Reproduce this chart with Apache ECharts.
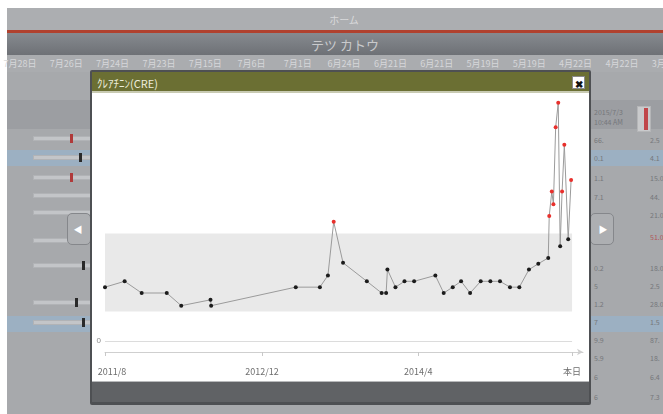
<!DOCTYPE html>
<html><head><meta charset="utf-8">
<script src="https://cdn.jsdelivr.net/npm/echarts@6/dist/echarts.min.js"></script>
<style>
html,body{margin:0;padding:0;width:663px;height:414px;overflow:hidden;background:#fff;font-family:"Noto Sans CJK JP","Noto Sans",sans-serif;}
.a{position:absolute;}
.t{position:absolute;transform:translate(-50%,-50%);white-space:nowrap;}
.tl{position:absolute;transform:translate(0,-50%);white-space:nowrap;}
.bar{position:absolute;height:5px;background:#c3c5c8;border:1px solid #b1b3b6;box-sizing:border-box;}
.mk{position:absolute;width:3px;height:9px;}
.nav{position:absolute;width:24px;height:32px;background:#adafb2;border:1px solid #85878b;border-radius:5px;box-sizing:border-box;}
.rv{position:absolute;transform:translate(0,-50%);font-size:7px;color:#75777b;white-space:nowrap;}
</style></head>
<body>
<!-- background app -->
<div class="a" style="left:7px;top:8px;width:656px;height:406px;background:#a7a9ac;"></div>
<div class="a" style="left:7px;top:8px;width:656px;height:22px;background:#acaeb1;"></div>
<div class="t" style="left:344px;top:19px;font-size:10px;color:#d9d9db;">ホーム</div>
<div class="a" style="left:7px;top:30px;width:656px;height:3px;background:#b0412e;"></div>
<div class="a" style="left:7px;top:33px;width:656px;height:22px;background:linear-gradient(#868a8f,#6e7176);"></div>
<div class="t" style="left:345px;top:44px;font-size:13px;color:#c9cacc;">テツ カトウ</div>
<div class="a" style="left:7px;top:55px;width:656px;height:17px;background:#aaacaf;" id="daterow"></div>
<div class="a" style="left:7px;top:100px;width:656px;height:29px;background:#9c9ea2;"></div>
<div class="a" style="left:7px;top:150px;width:656px;height:16px;background:#9cb0c2;"></div>
<div class="a" style="left:7px;top:316px;width:656px;height:16px;background:#9cb0c2;"></div>
<div id="bgitems"></div>
<div class="nav" style="left:67px;top:213px;"></div>
<div class="t" style="left:78px;top:229px;font-size:9px;color:#fff;">◀</div>
<div class="nav" style="left:590px;top:213px;"></div>
<div class="t" style="left:603px;top:229px;font-size:9px;color:#fff;">▶</div>
<div class="rv" style="left:594px;top:112px;">2015/7/3</div>
<div class="rv" style="left:594px;top:122px;">10:44 AM</div>
<div class="a" style="left:637px;top:106px;width:14px;height:26px;background:#c9cacc;border:1px solid #b5b6b8;box-sizing:border-box;"></div>
<div class="a" style="left:644px;top:108px;width:4px;height:22px;background:#c0464a;"></div>

<!-- modal -->
<div class="a" style="left:90px;top:70px;width:501px;height:335px;background:#4e5053;border-radius:2px;"></div>
<div class="a" style="left:92px;top:72px;width:497px;height:19px;background:#6b6f33;"></div>
<div class="a" style="left:92px;top:91px;width:497px;height:2px;background:#c8cab2;"></div>
<div class="tl" style="left:97px;top:83px;font-size:11px;color:#eeeedd;">ｸﾚｱﾁﾆﾝ(CRE)</div>
<div class="a" style="left:572px;top:76px;width:13px;height:13px;background:#fff;border:1px solid #8a8a8a;box-sizing:border-box;"></div>
<div class="t" style="left:578.5px;top:82.5px;font-size:10px;font-weight:bold;color:#111;">✖</div>
<div class="a" style="left:92px;top:93px;width:497px;height:288px;background:#fff;"></div>
<div class="a" style="left:92px;top:381px;width:497px;height:1px;background:#b8b9bb;"></div>
<div class="a" style="left:92px;top:382px;width:497px;height:20px;background:#606265;"></div>
<div class="a" id="chart" style="left:93px;top:93px;width:495px;height:288px;"></div>

<script>
// ---- data ----
const dates = ['2011-08-01','2011-10-01','2011-11-23','2012-02-09','2012-03-25','2012-06-24','2012-06-26',
  '2013-03-16','2013-05-30','2013-06-24','2013-07-12','2013-08-10','2013-10-23','2013-12-08','2013-12-22',
  '2013-12-26','2014-01-20','2014-02-17','2014-03-19','2014-05-24','2014-06-19','2014-07-17','2014-08-12',
  '2014-09-09','2014-10-12','2014-11-11','2014-12-11','2015-01-11','2015-02-09','2015-03-11','2015-04-09',
  '2015-05-10','2015-05-13','2015-05-21','2015-05-26','2015-06-02','2015-06-10','2015-06-16','2015-06-22',
  '2015-06-29','2015-07-11','2015-07-20'];
const values = [0.55,0.61,0.49,0.49,0.36,0.42,0.36,
  0.55,0.55,0.67,1.22,0.80,0.61,0.49,0.49,
  0.73,0.55,0.61,0.61,0.67,0.49,0.55,0.61,
  0.49,0.61,0.61,0.61,0.55,0.55,0.73,0.79,
  0.85,1.28,1.53,1.40,2.19,2.44,0.97,1.53,
  2.01,1.04,1.65];
const startDate = '2011-08-01';
const todayDate = '2015-07-23';
const tickDates = ['2011-08-01','2012-12-01','2014-04-01','2015-07-23'];
const tickLabels = ['2011/8','2012/12','2014/4','本日'];
const refLow = 0.3, refHigh = 1.1;
const headerDates = ['7月28日','7月26日','7月24日','7月23日','7月15日','7月6日','7月1日','6月24日','6月21日','6月21日','5月19日','5月19日','4月22日','4月22日','3月21日'];
const rightCol1 = ['66.','0.1','1.1','7.1','','','0.2','5','1.2','7','9.9','5.9','6','6'];
const rightCol2 = ['2.5','4.1','15.0','44.','21.0','51.0','18.0','2.5','28.0','1.5','87.','18.','6.4','7.3'];

// ---- background decorations ----
(function(){
  const row = document.getElementById('daterow');
  let h = '';
  headerDates.forEach((d,i)=>{
    h += '<div class="t" style="left:'+(13+46.3*i)+'px;top:8px;font-size:9px;color:#d6d7da;">'+d+'</div>';
  });
  row.innerHTML = h;
  const rowsY = [140,158,178,197,215,237,268,286,304,322,340,358,377,397];
  let b = '';
  rowsY.forEach((y,i)=>{
    b += '<div class="rv" style="left:594px;top:'+y+'px;">'+rightCol1[i]+'</div>';
    b += '<div class="rv" style="left:650px;top:'+y+'px;'+(i===5?'color:#b0575a;':'')+'">'+rightCol2[i]+'</div>';
  });
  const barY = [138,157,177,195,212,240,265,302,322];
  barY.forEach(y=>{ b += '<div class="bar" style="left:33px;top:'+(y-2)+'px;width:60px;"></div>'; });
  const marks = [[70,138,'#b03a3a'],[79,157,'#2a2a2a'],[70,177,'#b03a3a'],[82,265,'#2a2a2a'],[75,302,'#2a2a2a'],[82,322,'#2a2a2a']];
  marks.forEach(m=>{ b += '<div class="mk" style="left:'+m[0]+'px;top:'+(m[1]-4)+'px;background:'+m[2]+';"></div>'; });
  document.getElementById('bgitems').innerHTML = b;
})();

// ---- chart ----
function dayOf(s){const p=s.split('-').map(Number);const q=startDate.split('-').map(Number);
  return Math.round((Date.UTC(p[0],p[1]-1,p[2])-Date.UTC(q[0],q[1]-1,q[2]))/86400000);}
const todayDay = dayOf(todayDate);
const tickDays = tickDates.map(dayOf);
const seriesData = dates.map((d,i)=>[dayOf(d), values[i]]);

const chart = echarts.init(document.getElementById('chart'), null, {renderer:'canvas'});
chart.setOption({
  animation:false,
  grid:{left:12,right:5,top:4,bottom:29,containLabel:false,outerBoundsMode:'none'},
  xAxis:{type:'value',min:0,max:todayDay+34,
    splitLine:{show:false},
    axisLine:{show:true,onZero:false,lineStyle:{color:'#cfcfcf',width:1},symbol:['none','arrow'],symbolSize:[5,6]},
    axisTick:{show:true,length:4,lineStyle:{color:'#c8c8c8'},customValues:tickDays},
    axisLabel:{customValues:tickDays,margin:15,fontSize:9,color:'#6e6e6e',fontFamily:'"Noto Sans CJK JP","Noto Sans",sans-serif',
      hideOverlap:false,
      rich:{first:{fontSize:9,color:'#6e6e6e',padding:[0,0,0,14]}},
      formatter:v=>{const k=tickDays.indexOf(v);if(k<0)return '';return k===0?'{first|'+tickLabels[k]+'}':tickLabels[k];}}
  },
  yAxis:{type:'value',min:-0.115,max:2.5,show:false,splitLine:{show:false}},
  series:[{type:'line',data:seriesData,symbol:'circle',symbolSize:4,
    lineStyle:{color:'#9b9b9b',width:1},
    itemStyle:{color:p=>p.value[1]>refHigh?'#e8302c':'#1c1c1c',borderWidth:0},
    markArea:{silent:true,itemStyle:{color:'#e9e9e9'},
      data:[[{coord:[0,refLow]},{coord:[todayDay,refHigh]}]]},
    markLine:{silent:true,symbol:'none',lineStyle:{color:'#dcdcdc',type:'solid',width:1},
      label:{show:true,position:'start',formatter:'0',fontSize:8,color:'#8a8a8a',distance:4},
      data:[[{coord:[0,0]},{coord:[todayDay,0]}]]},
    z:3
  }]
});
</script>
</body></html>
